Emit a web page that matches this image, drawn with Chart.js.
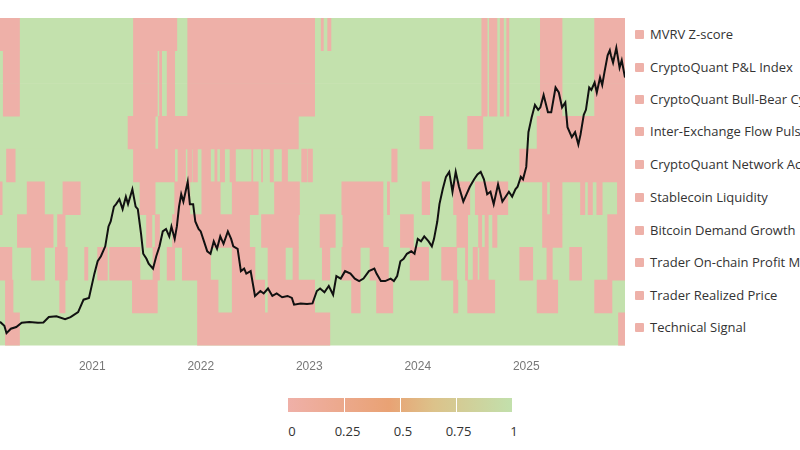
<!DOCTYPE html>
<html><head><meta charset="utf-8">
<script src="https://cdn.jsdelivr.net/npm/chart.js@4.4.1/dist/chart.umd.min.js"></script>
<style>
body{margin:0;width:800px;height:450px;background:#fff;font-family:"Open Sans","Noto Sans",sans-serif;overflow:hidden;position:relative}
#wrap{position:absolute;left:0;top:0;width:630px;height:380px}
#legend{position:absolute;left:635px;top:0;width:165px;height:360px;overflow:hidden;white-space:nowrap}
.li{position:absolute;left:0;font-size:13px;color:#333;line-height:16px}
.li span{display:inline-block;width:9px;height:9px;background:#eeb1a9;margin-right:6px;vertical-align:0px;border-radius:1px}
#cbar{position:absolute;left:288px;top:398px;width:224px;height:14px;background:linear-gradient(to right,#efb0a8,#e9a274 45%,#dcc28a 65%,#c2e0ac)}
.tick{position:absolute;top:0;width:1px;height:14px;background:#fff}
.cl{position:absolute;top:422px;font-size:13px;color:#333;transform:translateX(-50%)}
</style></head><body>
<div id="wrap"><canvas id="c"></canvas></div>
<div id="legend"></div>
<div id="cbar"></div>
<script>
const indicators=["MVRV Z-score","CryptoQuant P&L Index","CryptoQuant Bull-Bear Cycle","Inter-Exchange Flow Pulse","CryptoQuant Network Activity","Stablecoin Liquidity","Bitcoin Demand Growth","Trader On-chain Profit Margin","Trader Realized Price","Technical Signal"];
const xMin=2020.15, xMax=2025.91;
const yearTicks=[2021,2022,2023,2024,2025];
const colorbarLabels=["0","0.25","0.5","0.75","1"];
// red (0) intervals per indicator, decimal years
const redMVRV=[[2020.15,2020.33],[2021.38,2021.78],[2021.88,2023.05],[2023.11,2023.13],[2023.17,2023.2],[2024.59,2024.64],[2024.66,2024.73],[2024.76,2024.79],[2024.82,2024.84],[2025.13,2025.33],[2025.63,2025.91]];
const redPnL=[[2020.18,2020.33],[2021.38,2021.6],[2021.62,2021.64],[2021.69,2021.76],[2021.88,2023.05],[2024.59,2024.64],[2024.66,2024.73],[2024.76,2024.79],[2024.82,2024.84],[2025.13,2025.33],[2025.63,2025.91]];
const redBullBear=[[2020.18,2020.33],[2021.38,2021.6],[2021.62,2021.64],[2021.69,2021.76],[2021.88,2023.05],[2024.59,2024.64],[2024.66,2024.73],[2024.76,2024.79],[2024.82,2024.84],[2025.13,2025.33],[2025.63,2025.91]];
const redFlowPulse=[[2021.33,2021.58],[2021.61,2022.9],[2024.02,2024.14],[2024.46,2024.6],[2025.1,2025.91]];
const redNetwork=[[2020.21,2020.29],[2021.38,2021.76],[2021.79,2021.86],[2021.88,2021.92],[2021.93,2021.97],[2022.01,2022.09],[2022.13,2022.15],[2022.18,2022.22],[2022.27,2022.32],[2022.47,2022.48],[2022.56,2022.57],[2022.64,2022.67],[2022.75,2022.8],[2022.93,2022.98],[2022.99,2023.03],[2023.76,2023.81],[2024.94,2025.91]];
const redStable=[[2020.15,2020.17],[2020.4,2020.56],[2020.73,2020.89],[2021.44,2021.58],[2021.76,2021.9],[2022.01,2022.18],[2022.29,2022.53],[2022.68,2022.91],[2023.3,2023.68],[2023.72,2023.74],[2024.04,2024.11],[2024.33,2024.48],[2024.53,2024.83],[2025.15,2025.19],[2025.22,2025.33],[2025.5,2025.54],[2025.57,2025.61],[2025.65,2025.7],[2025.84,2025.91]];
const redDemand=[[2020.31,2020.64],[2020.68,2020.75],[2021.5,2021.55],[2021.58,2021.62],[2021.74,2022.45],[2022.56,2022.9],[2023.1,2023.24],[2023.31,2023.68],[2023.84,2023.96],[2024.36,2024.46],[2024.56,2024.59],[2024.62,2024.65],[2024.69,2024.73],[2025.15,2025.33],[2025.75,2025.91]];
const redMargin=[[2020.15,2020.26],[2020.44,2020.56],[2020.66,2020.77],[2020.93,2020.96],[2021.05,2021.14],[2021.16,2021.44],[2021.56,2021.62],[2021.69,2021.76],[2021.83,2022.09],[2022.29,2022.5],[2022.62,2022.78],[2022.85,2022.9],[2023.12,2023.19],[2023.3,2023.47],[2023.56,2023.73],[2023.93,2024.1],[2024.22,2024.36],[2024.44,2024.46],[2024.51,2024.55],[2024.57,2024.65],[2024.94,2025.06],[2025.19,2025.24],[2025.4,2025.51],[2025.75,2025.91]];
const redRealized=[[2020.2,2020.27],[2020.7,2020.75],[2021.37,2021.6],[2021.97,2022.16],[2022.29,2022.59],[2022.62,2023.05],[2023.39,2023.47],[2023.62,2023.77],[2024.33,2024.37],[2024.46,2024.71],[2025.1,2025.29],[2025.63,2025.79]];
const redTechnical=[[2020.2,2020.33],[2021.97,2023.19],[2025.85,2025.91]];
const redRows=[redMVRV,redPnL,redBullBear,redFlowPulse,redNetwork,redStable,redDemand,redMargin,redRealized,redTechnical];
// BTC price (USD thousands)
const priceDates=[2020.15,2020.19,2020.21,2020.25,2020.3,2020.35,2020.42,2020.5,2020.55,2020.6,2020.67,2020.75,2020.8,2020.87,2020.92,2020.97,2021.02,2021.05,2021.08,2021.12,2021.15,2021.17,2021.2,2021.22,2021.25,2021.28,2021.31,2021.33,2021.37,2021.4,2021.42,2021.45,2021.47,2021.5,2021.52,2021.56,2021.59,2021.62,2021.65,2021.68,2021.71,2021.73,2021.76,2021.78,2021.8,2021.82,2021.84,2021.86,2021.88,2021.9,2021.93,2021.95,2021.98,2022.0,2022.03,2022.06,2022.09,2022.12,2022.15,2022.18,2022.21,2022.25,2022.28,2022.3,2022.34,2022.37,2022.4,2022.42,2022.46,2022.5,2022.55,2022.58,2022.62,2022.66,2022.7,2022.75,2022.8,2022.84,2022.86,2022.92,2022.98,2023.03,2023.07,2023.1,2023.14,2023.18,2023.22,2023.25,2023.29,2023.33,2023.38,2023.42,2023.46,2023.5,2023.55,2023.6,2023.62,2023.66,2023.7,2023.75,2023.78,2023.81,2023.84,2023.87,2023.9,2023.94,2023.97,2024.0,2024.03,2024.06,2024.1,2024.13,2024.15,2024.18,2024.2,2024.23,2024.26,2024.29,2024.32,2024.35,2024.38,2024.42,2024.45,2024.48,2024.52,2024.55,2024.58,2024.61,2024.64,2024.67,2024.7,2024.74,2024.78,2024.81,2024.84,2024.87,2024.9,2024.92,2024.95,2024.97,2025.0,2025.02,2025.05,2025.08,2025.11,2025.13,2025.16,2025.2,2025.23,2025.27,2025.3,2025.33,2025.36,2025.38,2025.42,2025.45,2025.48,2025.5,2025.53,2025.55,2025.58,2025.6,2025.63,2025.65,2025.68,2025.7,2025.72,2025.75,2025.77,2025.78,2025.8,2025.83,2025.86,2025.88,2025.91];
const priceValues=[9.6,8.0,5.0,6.8,7.5,9.2,9.5,9.2,9.3,11.5,11.8,10.6,11.5,13.5,18.5,19.2,29,34,36,40,48,50,56,57,59,55,60,57,63,56,55,45,37,35,33,31,36,40,46,47,44,48,43,48,56,61,58,62,66,57,57,50,47,46,42,38,37,42,39,44,41,46,43,40,39,30,31,29,30,20,22,21,23,20,21,19.5,20,19.2,16.5,17,16.8,17,22,23,21.5,24,20.5,28,27,30,29,27,26,27,30,31,29,26,26,27,26,28,34,35,37,38,37,43,42,44,42,40,43,50,57,63,68,70,62,70,64,58,61,64,67,69,70,67,61,62,57,65,58,60,62,60,63,64,68,67,72,86,92,97,95,96,101,94,94,104,102,96,98,88,84,86,81,85,93,95,104,103,106,102,108,105,110,117,119,117,114,120,112,115,108,111,116,111,119,122,124,110,111,102,94,86,91];

const legend=document.getElementById('legend');
const ys=[34,67,99,131,164,197,230,262,295,327];
indicators.forEach((n,i)=>{const d=document.createElement('div');d.className='li';d.style.top=(ys[i]-8)+'px';d.innerHTML='<span></span>'+n.replace(/&/g,'&amp;');legend.appendChild(d);});
const cb=document.getElementById('cbar');
[1,2,3].forEach(k=>{const t=document.createElement('div');t.className='tick';t.style.left=(k*56)+'px';cb.appendChild(t);});
colorbarLabels.forEach((l,i)=>{const d=document.createElement('div');d.className='cl';d.style.left=(292+i*55.5)+'px';d.textContent=l;document.body.appendChild(d);});

const RED='#eeb0a8', GREEN='#c3e1ad';
const datasets=[];
datasets.push({type:'line',data:priceDates.map((d,i)=>({x:d,y:priceValues[i]})),xAxisID:'x',yAxisID:'yp',borderColor:'#111',borderWidth:2,pointRadius:0,tension:0,order:0});
datasets.push({type:'bar',indexAxis:'y',data:redRows.flatMap((rows,i)=>rows.map(r=>({x:r,y:indicators[i]}))),xAxisID:'x',yAxisID:'yr',backgroundColor:RED,borderWidth:0,barPercentage:1,categoryPercentage:1,grouped:false,order:1});
datasets.push({type:'bar',indexAxis:'y',data:indicators.map(n=>({x:[xMin,xMax],y:n})),xAxisID:'x',yAxisID:'yr',backgroundColor:GREEN,borderWidth:0,barPercentage:1,categoryPercentage:1,grouped:false,order:2});
new Chart(document.getElementById('c'),{data:{datasets},options:{responsive:true,maintainAspectRatio:false,animation:false,
layout:{padding:{top:18,right:5,left:0,bottom:0}},
plugins:{legend:{display:false},tooltip:{enabled:false}},
scales:{x:{type:'linear',min:xMin,max:xMax,afterBuildTicks:a=>{a.ticks=yearTicks.map(v=>({value:v}));},grid:{display:false,drawTicks:true},border:{display:false},ticks:{color:'#777',font:{size:12},padding:6,callback:v=>String(v)}},
yr:{type:'category',labels:indicators,display:false,offset:true},
yp:{type:'linear',min:0,max:132,display:false}}}});
</script></body></html>
